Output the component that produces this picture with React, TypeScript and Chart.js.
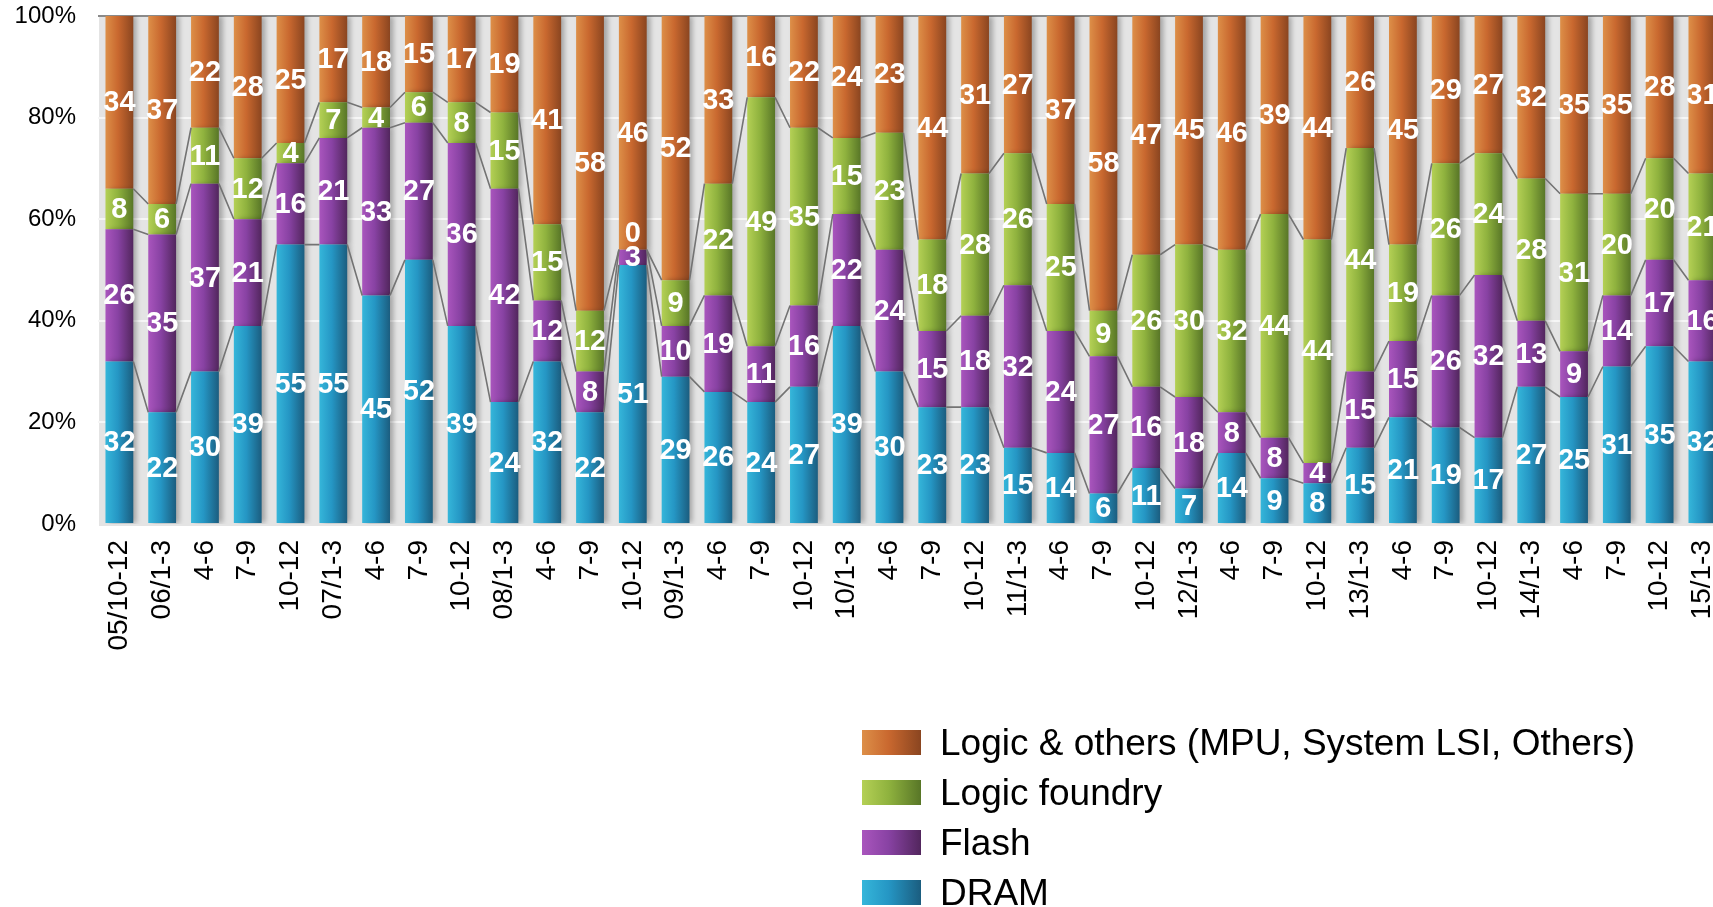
import React, { useEffect, useRef } from "react";
import { Chart, registerables } from "chart.js";

Chart.register(...registerables);

const categories = [
  "05/10-12", "06/1-3", "4-6", "7-9", "10-12",
  "07/1-3", "4-6", "7-9", "10-12",
  "08/1-3", "4-6", "7-9", "10-12",
  "09/1-3", "4-6", "7-9", "10-12",
  "10/1-3", "4-6", "7-9", "10-12",
  "11/1-3", "4-6", "7-9", "10-12",
  "12/1-3", "4-6", "7-9", "10-12",
  "13/1-3", "4-6", "7-9", "10-12",
  "14/1-3", "4-6", "7-9", "10-12",
  "15/1-3",
];

const dram = [32, 22, 30, 39, 55, 55, 45, 52, 39, 24, 32, 22, 51, 29, 26, 24, 27, 39, 30, 23, 23, 15, 14, 6, 11, 7, 14, 9, 8, 15, 21, 19, 17, 27, 25, 31, 35, 32];
const flash = [26, 35, 37, 21, 16, 21, 33, 27, 36, 42, 12, 8, 3, 10, 19, 11, 16, 22, 24, 15, 18, 32, 24, 27, 16, 18, 8, 8, 4, 15, 15, 26, 32, 13, 9, 14, 17, 16];
const foundry = [8, 6, 11, 12, 4, 7, 4, 6, 8, 15, 15, 12, 0, 9, 22, 49, 35, 15, 23, 18, 28, 26, 25, 9, 26, 30, 32, 44, 44, 44, 19, 26, 24, 28, 31, 20, 20, 21];
const logic = [34, 37, 22, 28, 25, 17, 18, 15, 17, 19, 41, 58, 46, 52, 33, 16, 22, 24, 23, 44, 31, 27, 37, 58, 47, 45, 46, 39, 44, 26, 45, 29, 27, 32, 35, 35, 28, 31];

const seriesNames = ["DRAM", "Flash", "Logic foundry", "Logic & others (MPU, System LSI, Others)"];
const yTicks = [0, 20, 40, 60, 80, 100];

const gradStops: string[][] = [
  ["#35b6da", "#2596c4", "#1b5d7f"],
  ["#a955bd", "#8842a3", "#52265d"],
  ["#b4d055", "#8fb23e", "#587627"],
  ["#dd8f48", "#c9682f", "#8a4520"],
];

const FONT = '"Liberation Sans", Arial, Helvetica, sans-serif';
const BAR_PCT = 0.65;

function makeGradient(ctx: CanvasRenderingContext2D, x0: number, x1: number, stops: string[]) {
  const g = ctx.createLinearGradient(x0, 0, x1, 0);
  g.addColorStop(0, stops[0]);
  g.addColorStop(0.45, stops[1]);
  g.addColorStop(1, stops[2]);
  return g;
}

const bgPlugin = {
  id: "bgPlugin",
  beforeDraw(chart: any) {
    const { ctx, chartArea } = chart;
    ctx.save();
    ctx.fillStyle = "#e4e4e4";
    ctx.fillRect(chartArea.left + 1, chartArea.top, chartArea.right - chartArea.left, chartArea.bottom - chartArea.top + 2);
    ctx.restore();
  },
  beforeDatasetsDraw(chart: any) {
    const ctx = chart.ctx;
    ctx.save();
    ctx.shadowColor = "rgba(0,0,0,0.28)";
    ctx.shadowOffsetX = 4;
    ctx.shadowOffsetY = 0;
    ctx.shadowBlur = 5;
  },
  afterDatasetsDraw(chart: any) {
    const ctx = chart.ctx;
    ctx.restore();
    const n = chart.data.labels.length;
    ctx.save();
    ctx.strokeStyle = "#737373";
    ctx.lineWidth = 1.6;
    for (let d = 0; d < 3; d++) {
      const meta = chart.getDatasetMeta(d);
      ctx.beginPath();
      for (let i = 0; i < n - 1; i++) {
        const a = meta.data[i] as any;
        const b = meta.data[i + 1] as any;
        ctx.moveTo(a.x + a.width / 2, a.y);
        ctx.lineTo(b.x - b.width / 2, b.y);
      }
      ctx.stroke();
    }
    ctx.restore();
    ctx.save();
    ctx.fillStyle = "#ffffff";
    ctx.font = `bold 29px ${FONT}`;
    ctx.textAlign = "center";
    ctx.textBaseline = "middle";
    chart.data.datasets.forEach((ds: any, d: number) => {
      const meta = chart.getDatasetMeta(d);
      meta.data.forEach((el: any, i: number) => {
        const v = ds.data[i];
        let y = (el.y + el.base) / 2;
        if (v === 0) y = el.y - 17;
        ctx.fillText(String(v), el.x, y + 1);
      });
    });
    ctx.restore();
  },
  afterDraw(chart: any) {
    const ctx = chart.ctx;
    ctx.save();
    ctx.font = `37px ${FONT}`;
    ctx.textBaseline = "alphabetic";
    ctx.textAlign = "left";
    const order = [3, 2, 1, 0];
    order.forEach((d, r) => {
      const top = 730 + r * 50;
      const x0 = 862;
      ctx.fillStyle = makeGradient(ctx, x0, x0 + 59, gradStops[d]);
      ctx.fillRect(x0, top, 59, 25);
      ctx.fillStyle = "#000000";
      ctx.fillText(chart.data.datasets[d].label, 940, top + 25);
    });
    ctx.restore();
  },
};

export default function App() {
  const ref = useRef<HTMLCanvasElement | null>(null);

  useEffect(() => {
    document.body.style.margin = "0";
    document.body.style.overflow = "hidden";
    const canvas = ref.current;
    if (!canvas) return;
    const series = [dram, flash, foundry, logic];
    const chart = new Chart(canvas, {
      type: "bar",
      data: {
        labels: categories,
        datasets: series.map((data, d) => ({
          label: seriesNames[d],
          data,
          borderWidth: 0,
          barPercentage: BAR_PCT,
          categoryPercentage: 1,
          backgroundColor: (c: any) => {
            const ch = c.chart;
            const xs = ch.scales && ch.scales.x;
            if (!xs || c.dataIndex === undefined || !ch.chartArea) return gradStops[d][1];
            const cx = xs.getPixelForValue(c.dataIndex);
            const catW = (xs.right - xs.left) / categories.length;
            const half = (catW * BAR_PCT) / 2;
            return makeGradient(ch.ctx, cx - half, cx + half, gradStops[d]);
          },
        })),
      },
      options: {
        responsive: false,
        animation: false,
        devicePixelRatio: 1,
        layout: { padding: { top: 16, left: 0, right: 0, bottom: 0 } },
        plugins: {
          legend: { display: false },
          tooltip: { enabled: false },
        },
        scales: {
          x: {
            stacked: true,
            offset: true,
            grid: { display: false },
            border: { display: false },
            ticks: {
              autoSkip: false,
              minRotation: 90,
              maxRotation: 90,
              padding: 8,
              color: "#000000",
              font: { family: FONT, size: 28 },
            },
            afterFit: (s: any) => {
              s.height = 383;
            },
          },
          y: {
            stacked: true,
            min: 0,
            max: 100,
            afterBuildTicks: (s: any) => {
              s.ticks = yTicks.map((v) => ({ value: v }));
            },
            grid: {
              drawTicks: true,
              tickLength: 22,
              tickColor: "rgba(0,0,0,0)",
              color: (c: any) => (c.tick.value === 100 ? "#8a8a8a" : c.tick.value === 0 ? "rgba(0,0,0,0)" : "#f6f6f6"),
              lineWidth: 2,
            },
            border: { display: false },
            ticks: {
              padding: 0,
              color: "#000000",
              font: { family: FONT, size: 24 },
              callback: (v: any) => `${v}%`,
            },
            afterFit: (s: any) => {
              s.width = 98;
            },
          },
        },
      },
      plugins: [bgPlugin],
    });
    return () => chart.destroy();
  }, []);

  return (
    <div style={{ width: 1744, height: 907, position: "relative" }}>
      <canvas ref={ref} width={1744} height={907} style={{ display: "block" }} />
    </div>
  );
}
